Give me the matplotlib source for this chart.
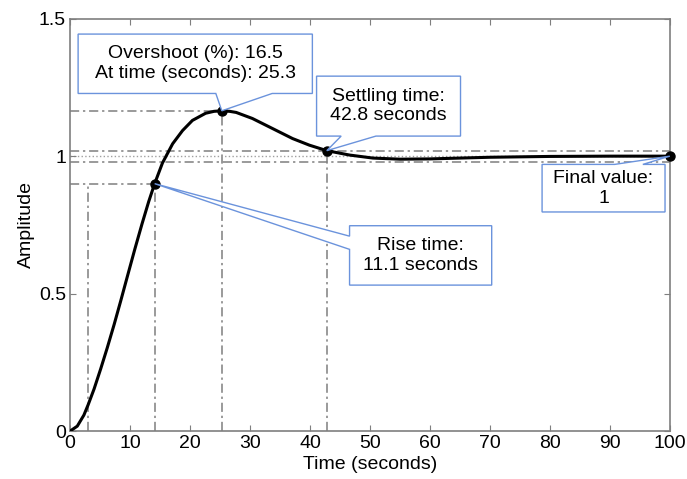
import matplotlib
matplotlib.use("Agg")
import matplotlib.pyplot as plt
from matplotlib.patches import Polygon

# step response
time_s = [0, 1.2, 2.3, 3.0, 4.0, 5.1, 6.2, 7.35, 8.45, 9.57, 10.8, 12.0,
          13.1, 14.1, 15.4, 17.1, 18.75, 20.4, 22.6, 24.0, 25.3, 26.6, 27.7,
          30.4, 33.8, 37.1, 39.9, 42.8, 46.6, 50.5, 55, 60, 65, 70, 80, 90,
          100]
amplitude = [0, 0.018, 0.058, 0.095, 0.153, 0.226, 0.303, 0.388, 0.474,
             0.564, 0.662, 0.754, 0.834, 0.90, 0.975, 1.045, 1.093, 1.130,
             1.156, 1.163, 1.165, 1.163, 1.159, 1.137, 1.10, 1.064, 1.04,
             1.02, 1.004, 0.993, 0.989, 0.99, 0.993, 0.996, 0.999, 1.0, 1.0]

rise_start, rise_end, rise_level = 3.0, 14.1, 0.9
peak_time, peak_value = 25.3, 1.165
settle_time, settle_value = 42.8, 1.02
settle_band = [0.98, 1.02]
final_time, final_value = 100, 1.0

x_ticks = [0, 10, 20, 30, 40, 50, 60, 70, 80, 90, 100]
y_ticks = [0, 0.5, 1, 1.5]
y_tick_labels = ["0", "0.5", "1", "1.5"]

GREY = "#7f7f7f"
BLUE = "#6b93dc"

plt.rcParams["font.family"] = ["Liberation Sans", "DejaVu Sans"]

fig = plt.figure(figsize=(6.87, 4.79), dpi=100)
ax = fig.add_axes([0.102, 0.100, 0.873, 0.861])

ref = dict(color=GREY, linestyle=(0, (6, 2.5, 1.5, 2.5)), linewidth=1.1,
           zorder=1)
ax.plot([0, rise_end], [rise_level, rise_level], **ref)
ax.plot([rise_start, rise_start], [0, rise_level], **ref)
ax.plot([rise_end, rise_end], [0, rise_level], **ref)
ax.plot([0, peak_time], [peak_value, peak_value], **ref)
ax.plot([peak_time, peak_time], [0, peak_value], **ref)
ax.plot([settle_time, settle_time], [0, settle_value], **ref)
for level in settle_band:
    ax.axhline(level, **ref)
ax.axhline(final_value, color="#a0a0a0", linestyle=":", linewidth=1.0, zorder=1)

ax.plot(time_s, amplitude, color="black", linewidth=2.2, zorder=3,
        solid_joinstyle="round", solid_capstyle="round")
ax.plot([rise_end, peak_time, settle_time, final_time],
        [rise_level, peak_value, settle_value, final_value],
        "o", color="black", markersize=6.5, zorder=4, clip_on=False)


def callout(verts, text, cx, cy):
    ax.add_patch(Polygon(verts, closed=True, facecolor="white",
                         edgecolor=BLUE, linewidth=1.0, zorder=5,
                         clip_on=False))
    ax.text(cx, cy, text, ha="center", va="center", fontsize=14,
            linespacing=1.2, zorder=6)


# overshoot, tail on bottom edge
callout([(1.34, 1.444), (40.4, 1.444), (40.4, 1.228), (33.7, 1.228),
         (peak_time, peak_value), (24.3, 1.228), (1.34, 1.228)],
        "Overshoot (%): 16.5\nAt time (seconds): 25.3", 20.9, 1.336)
# settling time, tail on bottom edge
callout([(41.1, 1.291), (65.1, 1.291), (65.1, 1.073), (51.0, 1.073),
         (settle_time, settle_value), (45.2, 1.073), (41.1, 1.073)],
        "Settling time:\n42.8 seconds", 53.1, 1.182)
# rise time, tail on left edge
callout([(46.6, 0.747), (70.3, 0.747), (70.3, 0.531), (46.6, 0.531),
         (46.6, 0.661), (rise_end, rise_level), (46.6, 0.709)],
        "Rise time:\n11.1 seconds", 58.45, 0.639)
# final value, tail on top edge
callout([(78.7, 0.970), (90.8, 0.970), (final_time, final_value),
         (95.5, 0.970), (99.2, 0.970), (99.2, 0.797), (78.7, 0.797)],
        "Final value:\n1", 88.95, 0.883)

ax.set_xlim(0, 100)
ax.set_ylim(0, 1.5)
ax.set_xticks(x_ticks)
ax.set_yticks(y_ticks)
ax.set_yticklabels(y_tick_labels)
ax.tick_params(direction="in", top=True, right=True, length=4, color=GREY,
               labelsize=14, pad=3)
for side in ax.spines.values():
    side.set_color(GREY)
    side.set_linewidth(1.2)
ax.set_xlabel("Time (seconds)", fontsize=14, labelpad=3)
ax.set_ylabel("Amplitude", fontsize=14, labelpad=3)

fig.savefig("out.png", dpi=100)
